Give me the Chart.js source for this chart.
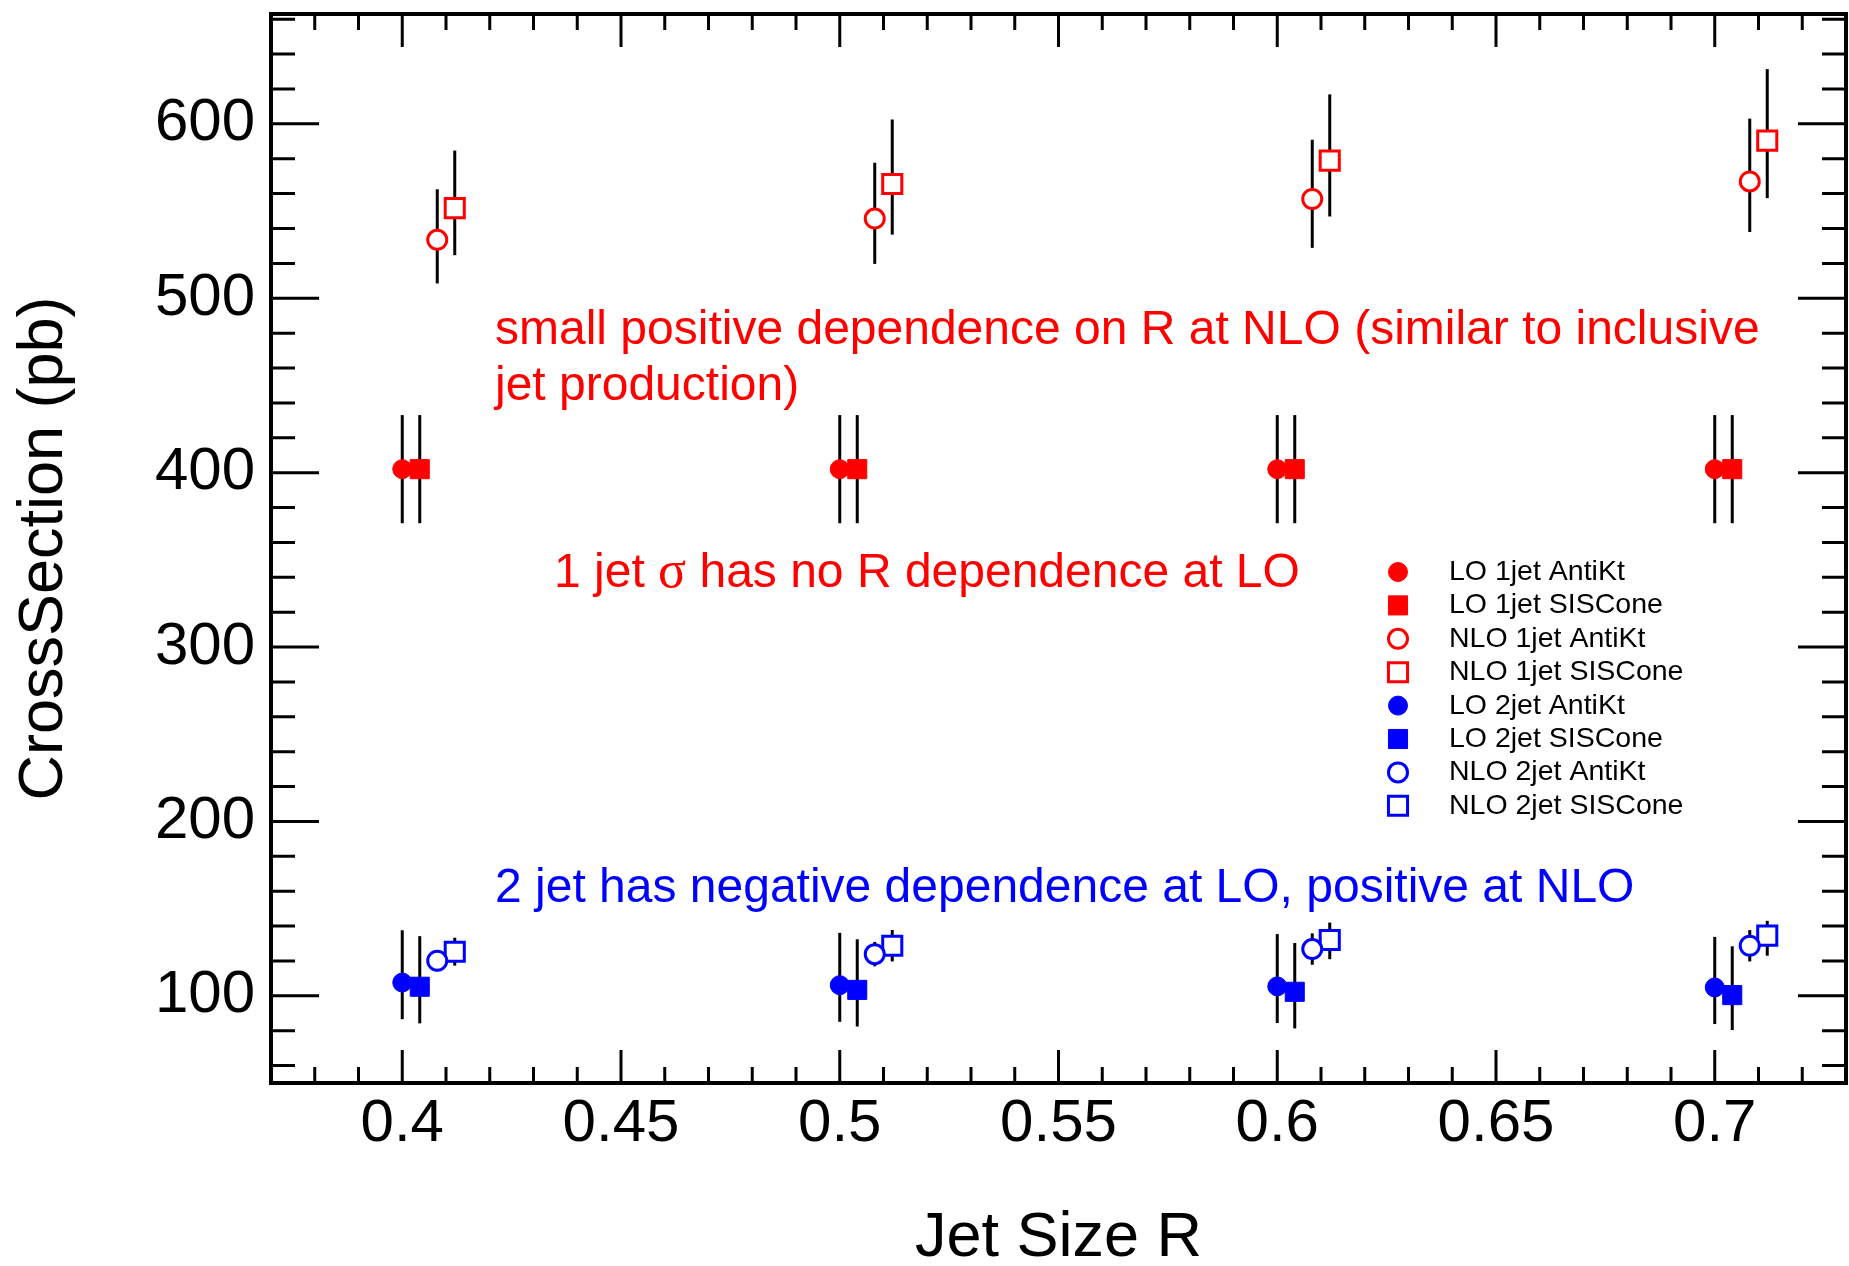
<!DOCTYPE html>
<html>
<head>
<meta charset="utf-8">
<script src="https://cdn.jsdelivr.net/npm/chart.js@4.4.1/dist/chart.umd.min.js"></script>
<style>
  html, body { margin: 0; padding: 0; background: #fff; }
</style>
</head>
<body>
<canvas id="xsec" width="1849" height="1266"></canvas>
<script>
// jet radius values and the small horizontal shift used for each series
const jetR = [0.4, 0.5, 0.6, 0.7];
const xTickValues = [0.4, 0.45, 0.5, 0.55, 0.6, 0.65, 0.7];
const yTickValues = [100, 200, 300, 400, 500, 600];

const seriesLabels = [
  'LO 1jet AntiKt', 'LO 1jet SISCone', 'NLO 1jet AntiKt', 'NLO 1jet SISCone',
  'LO 2jet AntiKt', 'LO 2jet SISCone', 'NLO 2jet AntiKt', 'NLO 2jet SISCone'
];
const seriesShift = [0, 0.004, 0.008, 0.012, 0, 0.004, 0.008, 0.012];

// cross sections (pb)
const lo1AntiKt = [402, 402, 402, 402];
const lo1SISCone = [402, 402, 402, 402];
const nlo1AntiKt = [533.5, 545.7, 556.9, 567.0];
const nlo1SISCone = [551.7, 565.5, 578.9, 590.4];
const lo2AntiKt = [107.6, 106.1, 105.4, 104.8];
const lo2SISCone = [105.2, 103.4, 102.3, 100.4];
const nlo2AntiKt = [120.1, 123.9, 126.8, 128.7];
const nlo2SISCone = [125.3, 128.7, 132.0, 134.5];

// error bars, up and down
const lo1AntiKtUp = [31, 31, 31, 31], lo1AntiKtDn = [31, 31, 31, 31];
const lo1SISConeUp = [31, 31, 31, 31], lo1SISConeDn = [31, 31, 31, 31];
const nlo1AntiKtUp = [29, 32, 34, 36], nlo1AntiKtDn = [25, 26, 28, 29];
const nlo1SISConeUp = [33, 37, 38, 41], nlo1SISConeDn = [27, 29, 32, 33];
const lo2AntiKtUp = [30, 30, 30, 29], lo2AntiKtDn = [21, 21, 21, 21];
const lo2SISConeUp = [29, 29, 28, 28], lo2SISConeDn = [21, 21, 21, 20];
const nlo2AntiKtUp = [6, 7, 9, 9], nlo2AntiKtDn = [6, 7, 9, 9];
const nlo2SISConeUp = [8, 9, 10, 8.5], nlo2SISConeDn = [8, 9, 11, 11.5];

const RED = '#ff0000';
const BLUE = '#0000ff';
const FONT = '"Liberation Sans", Arial, Helvetica, sans-serif';

function pts(vals, k) {
  return jetR.map((r, i) => ({ x: +(r + seriesShift[k]).toFixed(3), y: vals[i] }));
}

function series(k, vals, up, dn, color, style, hollow) {
  return {
    label: seriesLabels[k],
    data: pts(vals, k),
    errUp: up,
    errDn: dn,
    showLine: false,
    pointStyle: style,
    pointRadius: style === 'rect' ? 13.5 : 9.5,
    pointHoverRadius: style === 'rect' ? 13.5 : 9.5,
    pointBackgroundColor: hollow ? '#ffffff' : color,
    pointBorderColor: color,
    pointBorderWidth: hollow ? 3 : 1,
    pointHoverBorderWidth: hollow ? 3 : 1
  };
}

const datasets = [
  series(0, lo1AntiKt, lo1AntiKtUp, lo1AntiKtDn, RED, 'circle', false),
  series(1, lo1SISCone, lo1SISConeUp, lo1SISConeDn, RED, 'rect', false),
  series(2, nlo1AntiKt, nlo1AntiKtUp, nlo1AntiKtDn, RED, 'circle', true),
  series(3, nlo1SISCone, nlo1SISConeUp, nlo1SISConeDn, RED, 'rect', true),
  series(4, lo2AntiKt, lo2AntiKtUp, lo2AntiKtDn, BLUE, 'circle', false),
  series(5, lo2SISCone, lo2SISConeUp, lo2SISConeDn, BLUE, 'rect', false),
  series(6, nlo2AntiKt, nlo2AntiKtUp, nlo2AntiKtDn, BLUE, 'circle', true),
  series(7, nlo2SISCone, nlo2SISConeUp, nlo2SISConeDn, BLUE, 'rect', true)
];

// vertical error bars, under the markers
const errorBars = {
  id: 'errorBars',
  beforeDatasetsDraw(chart) {
    const ctx = chart.ctx, xs = chart.scales.x, ys = chart.scales.y;
    ctx.save();
    ctx.strokeStyle = '#000';
    ctx.lineWidth = 3;
    chart.data.datasets.forEach(ds => {
      ds.data.forEach((p, j) => {
        const px = xs.getPixelForValue(p.x);
        ctx.beginPath();
        ctx.moveTo(px, ys.getPixelForValue(p.y + ds.errUp[j]));
        ctx.lineTo(px, ys.getPixelForValue(p.y - ds.errDn[j]));
        ctx.stroke();
      });
    });
    ctx.restore();
  }
};

// ROOT-style frame with inward ticks on all four sides
const frame = {
  id: 'frame',
  afterDraw(chart) {
    const ctx = chart.ctx, xs = chart.scales.x, ys = chart.scales.y;
    const { left, right, top, bottom } = chart.chartArea;
    ctx.save();
    ctx.strokeStyle = '#000';
    ctx.lineWidth = 3;
    ctx.beginPath();
    for (let k = Math.ceil(xs.min * 100); k <= Math.floor(xs.max * 100); k++) {
      const px = xs.getPixelForValue(k / 100);
      const len = k % 5 === 0 ? 33 : 16;
      ctx.moveTo(px, bottom); ctx.lineTo(px, bottom - len);
      ctx.moveTo(px, top); ctx.lineTo(px, top + len);
    }
    for (let v = Math.ceil(ys.min / 20) * 20; v <= ys.max; v += 20) {
      const py = ys.getPixelForValue(v);
      const len = v % 100 === 0 ? 48 : 24;
      ctx.moveTo(left, py); ctx.lineTo(left + len, py);
      ctx.moveTo(right, py); ctx.lineTo(right - len, py);
    }
    ctx.stroke();
    ctx.lineWidth = 4;
    ctx.strokeRect(left, top, right - left, bottom - top);
    ctx.restore();
  }
};

// legend inside the plot
const markerLegend = {
  id: 'markerLegend',
  afterDraw(chart) {
    const ctx = chart.ctx;
    ctx.save();
    chart.data.datasets.forEach((ds, i) => {
      const x = 1398, y = 572 + i * 33.4;
      ctx.beginPath();
      if (ds.pointStyle === 'rect') {
        const s = ds.pointRadius * Math.SQRT1_2;
        ctx.rect(x - s, y - s, 2 * s, 2 * s);
      } else {
        ctx.arc(x, y, ds.pointRadius, 0, Math.PI * 2);
      }
      ctx.fillStyle = ds.pointBackgroundColor;
      ctx.fill();
      ctx.lineWidth = ds.pointBorderWidth;
      ctx.strokeStyle = ds.pointBorderColor;
      ctx.stroke();
      ctx.fillStyle = '#000';
      ctx.font = '28.5px ' + FONT;
      ctx.textBaseline = 'alphabetic';
      ctx.textAlign = 'left';
      ctx.fillText(ds.label, 1449, y + 8);
    });
    ctx.restore();
  }
};

// comments written on the plot
const notes = {
  id: 'notes',
  afterDraw(chart) {
    const ctx = chart.ctx;
    ctx.save();
    ctx.textBaseline = 'alphabetic';
    ctx.textAlign = 'left';
    const sans = '48px ' + FONT;
    ctx.font = sans;
    ctx.fillStyle = RED;
    ctx.fillText('small positive dependence on R at NLO (similar to inclusive', 495, 344);
    ctx.fillText('jet production)', 495, 400);
    // "1 jet σ has no R dependence at LO" with a serif sigma
    let x = 554;
    const parts = [['1 jet ', sans], ['\u03c3', '52px "Liberation Serif", "DejaVu Serif", serif'], [' has no R dependence at LO', sans]];
    parts.forEach(([t, f]) => {
      ctx.font = f;
      ctx.fillText(t, x, 587);
      x += ctx.measureText(t).width;
    });
    ctx.font = sans;
    ctx.fillStyle = BLUE;
    ctx.fillText('2 jet has negative dependence at LO, positive at NLO', 495, 902);
    ctx.restore();
  }
};

new Chart(document.getElementById('xsec'), {
  type: 'scatter',
  data: { datasets: datasets },
  options: {
    responsive: false,
    animation: false,
    events: [],
    layout: { autoPadding: false, padding: { top: 14, right: 3, left: 0, bottom: 0 } },
    plugins: { legend: { display: false }, tooltip: { enabled: false } },
    scales: {
      x: {
        type: 'linear',
        min: 0.37,
        max: 0.73,
        grid: { display: false },
        border: { display: false },
        afterBuildTicks: s => { s.ticks = xTickValues.map(v => ({ value: v })); },
        afterFit: s => { s.height = 183; s.paddingLeft = 0; s.paddingRight = 0; },
        ticks: {
          color: '#000',
          font: { family: FONT, size: 60, lineHeight: 1 },
          padding: 3,
          maxRotation: 0,
          callback: v => String(v)
        },
        title: {
          display: true,
          text: 'Jet Size R',
          color: '#000',
          font: { family: FONT, size: 63, lineHeight: 1 },
          padding: { top: 0, bottom: -4 }
        }
      },
      y: {
        type: 'linear',
        min: 50,
        max: 663,
        grid: { display: false },
        border: { display: false },
        afterBuildTicks: s => { s.ticks = yTickValues.map(v => ({ value: v })); },
        afterFit: s => { s.width = 271; s.paddingTop = 0; s.paddingBottom = 0; },
        ticks: {
          color: '#000',
          font: { family: FONT, size: 60, lineHeight: 1 },
          padding: 8,
          callback: v => String(v)
        },
        title: {
          display: true,
          text: 'CrossSection (pb)',
          color: '#000',
          font: { family: FONT, size: 63, lineHeight: 1 },
          padding: { top: 13, bottom: 0 }
        }
      }
    }
  },
  plugins: [errorBars, frame, markerLegend, notes]
});
</script>
</body>
</html>
